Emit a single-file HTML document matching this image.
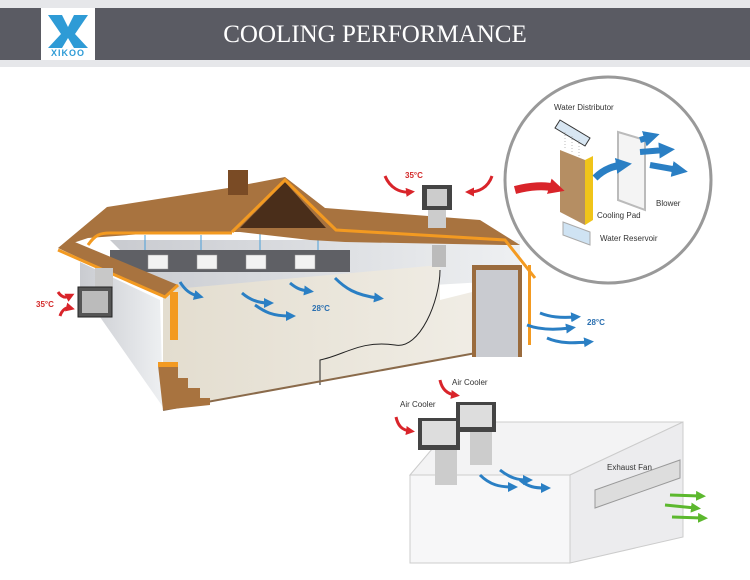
<!DOCTYPE html>
<html><head><meta charset="utf-8"><style>
html,body{margin:0;padding:0;background:#fff;}
body{width:750px;height:575px;overflow:hidden;font-family:"Liberation Sans",sans-serif;}
</style></head><body>
<svg width="750" height="575" viewBox="0 0 750 575" xmlns="http://www.w3.org/2000/svg">
<defs>
<linearGradient id="wall" x1="0" x2="1"><stop offset="0" stop-color="#c9cbd0"/><stop offset="1" stop-color="#eef0f2"/></linearGradient>
<linearGradient id="floor" x1="0" x2="1"><stop offset="0" stop-color="#e3ddcf"/><stop offset="1" stop-color="#f2efe8"/></linearGradient>
<marker id="bA" markerUnits="userSpaceOnUse" markerWidth="10" markerHeight="10" refX="4" refY="5" orient="auto"><path d="M0,0 L10,5 L0,10z" fill="#2a7fc4"/></marker>
<marker id="bB" markerUnits="userSpaceOnUse" markerWidth="16" markerHeight="16" refX="6" refY="8" orient="auto"><path d="M0,0 L16,8 L0,16z" fill="#2a7fc4"/></marker>
<marker id="rA" markerUnits="userSpaceOnUse" markerWidth="9" markerHeight="9" refX="4" refY="4.5" orient="auto"><path d="M0,0 L9,4.5 L0,9z" fill="#d9242a"/></marker>
<marker id="rB" markerUnits="userSpaceOnUse" markerWidth="16" markerHeight="16" refX="6" refY="8" orient="auto"><path d="M0,0 L16,8 L0,16z" fill="#d9242a"/></marker>
<marker id="gA" markerUnits="userSpaceOnUse" markerWidth="10" markerHeight="10" refX="4" refY="5" orient="auto"><path d="M0,0 L10,5 L0,10z" fill="#5cb82e"/></marker>
</defs>
<!-- header -->
<rect x="0" y="0" width="750" height="67" fill="#e6e7ea"/>
<rect x="0" y="8" width="750" height="52" fill="#5a5b63"/>
<rect x="41" y="8" width="54" height="52" fill="#fff"/>
<polygon points="48,15 62,15 68,27 74,15 88,15 75,34 88,48 74,48 68,38 62,48 48,48 61,34" fill="#2e9bd6"/>
<text x="68" y="56" font-size="9" font-weight="bold" fill="#2e9bd6" text-anchor="middle" letter-spacing="1">XIKOO</text>
<text x="375" y="42" font-family="Liberation Serif,serif" font-size="25" fill="#fff" text-anchor="middle">COOLING PERFORMANCE</text>

<!-- house interior -->
<polygon points="80,262 160,300 163,407 100,317 80,310" fill="url(#wall)"/>
<polygon points="110,240 520,240 520,280 170,300" fill="url(#wall)"/>
<polygon points="163,290 440,265 440,300 520,280 520,345 163,410" fill="url(#floor)"/>
<path d="M320,385 L320,360 C345,355 360,340 395,345 C420,350 440,300 440,270" fill="none" stroke="#222" stroke-width="1"/>
<path d="M163,410 L520,345" stroke="#8a6a4a" stroke-width="2"/>
<!-- duct -->
<rect x="110" y="250" width="240" height="22" fill="#5f6065"/>
<g fill="#f2f2f2" stroke="#999" stroke-width="0.5">
<rect x="148" y="255" width="20" height="14"/><rect x="197" y="255" width="20" height="14"/><rect x="246" y="255" width="20" height="14"/><rect x="295" y="255" width="20" height="14"/></g>
<g stroke="#4a9fd8" stroke-width="1"><line x1="145" y1="235" x2="145" y2="250"/><line x1="201" y1="235" x2="201" y2="250"/><line x1="260" y1="232" x2="260" y2="250"/><line x1="318" y1="232" x2="318" y2="250"/></g>
<!-- roof -->
<polygon points="58,248 107,207 228,188 285,177 325,208 480,220 520,245 505,245 345,242 310,240 240,232 170,232 88,238" fill="#a8733f"/>
<polygon points="240,228 285,182 326,228" fill="#4a2e1a"/>
<path d="M232,232 L285,180 L336,230 L505,240 L535,278" fill="none" stroke="#f39a21" stroke-width="3"/>
<path d="M88,245 C95,235 100,233 110,233 L232,233" fill="none" stroke="#f39a21" stroke-width="3"/>
<rect x="228" y="170" width="20" height="25" fill="#7a4b25"/>
<polygon points="58,248 70,240 178,285 165,298" fill="#a8733f"/>
<path d="M58,250 L165,297 L178,285" fill="none" stroke="#f39a21" stroke-width="3"/>
<rect x="170" y="292" width="8" height="48" fill="#f39a21"/>
<rect x="528" y="265" width="3" height="80" fill="#f39a21"/>
<!-- stairs -->
<polygon points="158,365 178,365 178,378 188,378 188,388 200,388 200,398 210,398 210,405 163,410" fill="#a8733f"/>
<rect x="158" y="362" width="20" height="5" fill="#f39a21"/>
<!-- door -->
<rect x="472" y="265" width="50" height="92" fill="#9a6b3d"/>
<rect x="476" y="270" width="42" height="87" fill="#c9cbd0"/>
<!-- coolers -->
<rect x="95" y="268" width="18" height="20" fill="#c8c8c8"/>
<rect x="78" y="287" width="34" height="30" fill="#555" stroke="#222"/>
<rect x="82" y="291" width="26" height="22" fill="#bbb"/>
<rect x="422" y="185" width="30" height="25" fill="#444"/>
<rect x="427" y="189" width="20" height="17" fill="#ccc"/>
<rect x="428" y="210" width="18" height="18" fill="#ccc"/>
<rect x="432" y="245" width="14" height="22" fill="#bbb"/>
<!-- labels -->
<g font-size="8" font-weight="bold" fill="#d32a2a"><text x="36" y="307">35°C</text><text x="405" y="178">35°C</text></g>
<g font-size="8" fill="#2a6fb0" font-weight="bold"><text x="312" y="311">28°C</text><text x="587" y="325">28°C</text></g>
<g fill="none" stroke-width="3">
<path d="M385,176 C390,188 400,193 410,192" stroke="#d9242a" marker-end="url(#rA)"/>
<path d="M492,176 C488,188 478,192 470,192" stroke="#d9242a" marker-end="url(#rA)"/>
<path d="M58,292 C62,298 66,298 70,296" stroke="#d9242a" marker-end="url(#rA)"/>
<path d="M60,316 C62,310 66,307 70,308" stroke="#d9242a" marker-end="url(#rA)"/>
<path d="M180,282 C185,290 190,294 198,296" stroke="#2a7fc4" marker-end="url(#bA)"/>
<path d="M242,293 C250,300 258,303 268,303" stroke="#2a7fc4" marker-end="url(#bA)"/>
<path d="M255,305 C265,312 272,316 290,316" stroke="#2a7fc4" marker-end="url(#bA)"/>
<path d="M290,283 C296,288 300,290 308,291" stroke="#2a7fc4" marker-end="url(#bA)"/>
<path d="M335,278 C345,288 355,295 378,298" stroke="#2a7fc4" marker-end="url(#bA)"/>
<path d="M540,313 C550,317 560,318 575,317" stroke="#2a7fc4" marker-end="url(#bA)"/>
<path d="M527,325 C540,330 555,330 570,328" stroke="#2a7fc4" marker-end="url(#bA)"/>
<path d="M547,338 C560,344 575,343 588,342" stroke="#2a7fc4" marker-end="url(#bA)"/>
</g>
<!-- circle -->
<circle cx="608" cy="180" r="103" fill="#fff" stroke="#999" stroke-width="3"/>
<polygon points="560,120 590,138 585,146 555,128" fill="#d8e6f2" stroke="#333"/>
<g stroke="#bbb" stroke-dasharray="1,2"><line x1="565" y1="132" x2="565" y2="150"/><line x1="572" y1="136" x2="572" y2="153"/><line x1="579" y1="140" x2="579" y2="156"/></g>
<polygon points="560,150 585,160 585,225 560,212" fill="#b58e63"/>
<polygon points="585,160 593,156 593,220 585,225" fill="#f0c419"/>
<polygon points="563,222 590,232 590,245 563,235" fill="#cfe3f3" stroke="#aaa"/>
<polygon points="618,132 645,140 645,210 618,200" fill="#f4f4f4" stroke="#bbb" stroke-width="2"/>
<path d="M515,190 C530,186 545,185 555,188" stroke="#d9242a" stroke-width="8" fill="none" marker-end="url(#rB)"/>
<path d="M595,178 C605,168 615,166 622,165" stroke="#2a7fc4" stroke-width="7" fill="none" marker-end="url(#bB)"/>
<path d="M640,140 L650,137" stroke="#2a7fc4" stroke-width="6" marker-end="url(#bB)"/>
<path d="M650,165 L678,170" stroke="#2a7fc4" stroke-width="6" marker-end="url(#bB)"/>
<path d="M640,152 L665,150" stroke="#2a7fc4" stroke-width="6" marker-end="url(#bB)"/>
<g font-size="8" fill="#333"><text x="554" y="110">Water Distributor</text><text x="656" y="206">Blower</text><text x="597" y="218">Cooling Pad</text><text x="600" y="241">Water Reservoir</text></g>
<!-- bottom box -->
<polygon points="410,475 455,422 683,422 570,475" fill="#f3f3f4" stroke="#ccc"/>
<polygon points="570,475 683,422 683,537 570,563" fill="#ececee" stroke="#ccc"/>
<rect x="410" y="475" width="160" height="88" fill="#f7f7f8" stroke="#ccc"/>
<polygon points="595,490 680,460 680,478 595,508" fill="#ddd" stroke="#999"/>
<rect x="435" y="445" width="22" height="40" fill="#ccc"/>
<rect x="470" y="430" width="22" height="35" fill="#ccc"/>
<rect x="418" y="418" width="42" height="32" fill="#444"/><rect x="422" y="421" width="34" height="24" fill="#ddd"/>
<rect x="456" y="402" width="40" height="30" fill="#444"/><rect x="460" y="405" width="32" height="22" fill="#ddd"/>
<g fill="none" stroke-width="3">
<path d="M440,380 C442,390 448,394 455,395" stroke="#d9242a" marker-end="url(#rA)"/>
<path d="M396,417 C398,426 402,430 410,431" stroke="#d9242a" marker-end="url(#rA)"/>
<path d="M480,475 C490,485 500,487 512,487" stroke="#2a7fc4" marker-end="url(#bA)"/>
<path d="M500,470 C510,478 518,480 527,480" stroke="#2a7fc4" marker-end="url(#bA)"/>
<path d="M520,480 C528,487 535,488 545,488" stroke="#2a7fc4" marker-end="url(#bA)"/>
<path d="M670,495 L700,496" stroke="#5cb82e" marker-end="url(#gA)"/>
<path d="M665,505 L695,508" stroke="#5cb82e" marker-end="url(#gA)"/>
<path d="M672,517 L702,518" stroke="#5cb82e" marker-end="url(#gA)"/>
</g>
<g font-size="8" fill="#333"><text x="452" y="385">Air Cooler</text><text x="400" y="407">Air Cooler</text><text x="607" y="470">Exhaust Fan</text></g>
</svg>
</body></html>
